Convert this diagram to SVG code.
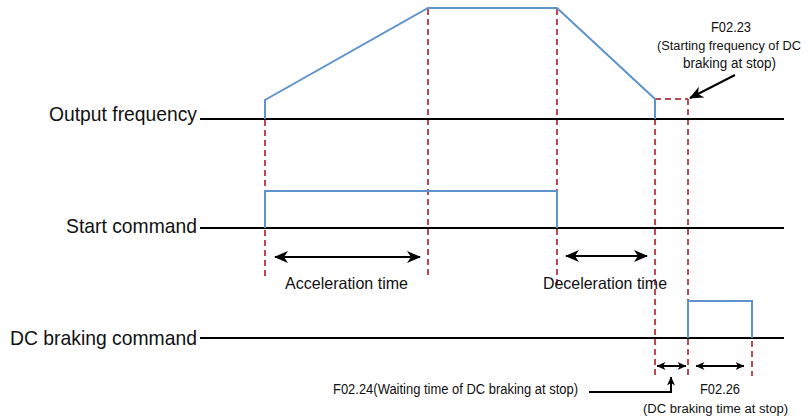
<svg xmlns="http://www.w3.org/2000/svg" width="808" height="417" viewBox="0 0 808 417">
<style>
.base{stroke:#000;stroke-width:2;fill:none}
.sig{stroke:#5F93CC;stroke-width:2;fill:none;stroke-linejoin:miter}
.dash{stroke:#BF4653;stroke-width:2;stroke-dasharray:6,4;fill:none}
.arr{stroke:#000;stroke-width:2;fill:none}
.lbl{font-family:"Liberation Sans",Arial,sans-serif;font-size:21px;fill:#111}
.mid{font-family:"Liberation Sans",Arial,sans-serif;font-size:16.5px;fill:#111}
.sm{font-family:"Liberation Sans",Arial,sans-serif;font-size:14px;fill:#111}
.sm2{font-family:"Liberation Sans",Arial,sans-serif;font-size:12.5px;fill:#111}
</style>
<defs>
<marker id="big" viewBox="0 0 14 12" refX="13" refY="6" markerWidth="14" markerHeight="12" markerUnits="userSpaceOnUse" orient="auto-start-reverse">
<path d="M0,0 L14,6 L0,12 L4,6 Z" fill="#000"/>
</marker>
<marker id="small" viewBox="0 0 9 8" refX="8.5" refY="4" markerWidth="9" markerHeight="8" markerUnits="userSpaceOnUse" orient="auto-start-reverse">
<path d="M0,0 L9,4 L0,8 L2.5,4 Z" fill="#000"/>
</marker>
</defs>

<g id="guides">
<line class="dash" x1="265" y1="100" x2="265" y2="276"/>
<line class="dash" x1="428" y1="9" x2="428" y2="276"/>
<line class="dash" x1="557" y1="9" x2="557" y2="284"/>
<line class="dash" x1="655" y1="99" x2="655" y2="376"/>
<line class="dash" x1="688" y1="99" x2="688" y2="376"/>
<line class="dash" x1="752" y1="301" x2="752" y2="376"/>
<line class="dash" x1="655" y1="99" x2="688" y2="99"/>
</g>

<g id="output-frequency">
<text class="lbl" x="49" y="121" textLength="148" lengthAdjust="spacingAndGlyphs">Output frequency</text>
<line class="base" x1="200" y1="119" x2="784" y2="119"/>
<polyline class="sig" points="265,119 265,100 428,8 557,8 655,99 655,119"/>
</g>

<g id="start-command">
<text class="lbl" x="66" y="233" textLength="131" lengthAdjust="spacingAndGlyphs">Start command</text>
<line class="base" x1="200" y1="228" x2="784" y2="228"/>
<polyline class="sig" points="265,228 265,191 557,191 557,228"/>
</g>

<g id="dc-braking-command">
<text class="lbl" x="10" y="345" textLength="187" lengthAdjust="spacingAndGlyphs">DC braking command</text>
<line class="base" x1="200" y1="338" x2="784" y2="338"/>
<polyline class="sig" points="688,338 688,301 752,301 752,338"/>
</g>

<g id="acceleration-time">
<text class="mid" x="285" y="289" textLength="123" lengthAdjust="spacingAndGlyphs">Acceleration time</text>
</g>

<g id="deceleration-time">
<text class="mid" x="543" y="289" textLength="124" lengthAdjust="spacingAndGlyphs">Deceleration time</text>
</g>

<g id="f02-23">
<text class="sm" x="711" y="32" textLength="40" lengthAdjust="spacingAndGlyphs">F02.23</text>
<text class="sm2" x="657" y="50" textLength="144" lengthAdjust="spacingAndGlyphs">(Starting frequency of DC</text>
<text class="sm" x="683" y="68" textLength="93" lengthAdjust="spacingAndGlyphs">braking at stop)</text>
</g>

<g id="f02-24">
<text class="sm" x="333" y="394" textLength="245" lengthAdjust="spacingAndGlyphs">F02.24(Waiting time of DC braking at stop)</text>
</g>

<g id="f02-26">
<text class="sm" x="700" y="394" textLength="40" lengthAdjust="spacingAndGlyphs">F02.26</text>
<text class="sm2" x="643" y="413" textLength="145" lengthAdjust="spacingAndGlyphs">(DC braking time at stop)</text>
</g>

<g id="connectors">
<line class="arr" x1="275" y1="257" x2="420" y2="257" marker-start="url(#big)" marker-end="url(#big)"/>
<line class="arr" x1="566" y1="256" x2="647" y2="256" marker-start="url(#big)" marker-end="url(#big)"/>
<line class="arr" stroke-width="1.5" x1="657" y1="366" x2="686" y2="366" marker-start="url(#small)" marker-end="url(#small)"/>
<line class="arr" stroke-width="1.5" x1="696" y1="366" x2="744" y2="366" marker-start="url(#small)" marker-end="url(#small)"/>
<polyline class="arr" stroke-width="1.5" points="589,392 671,392 671,377" marker-end="url(#small)"/>
<line class="arr" x1="735" y1="75" x2="690" y2="98" marker-end="url(#big)"/>
</g>
</svg>
